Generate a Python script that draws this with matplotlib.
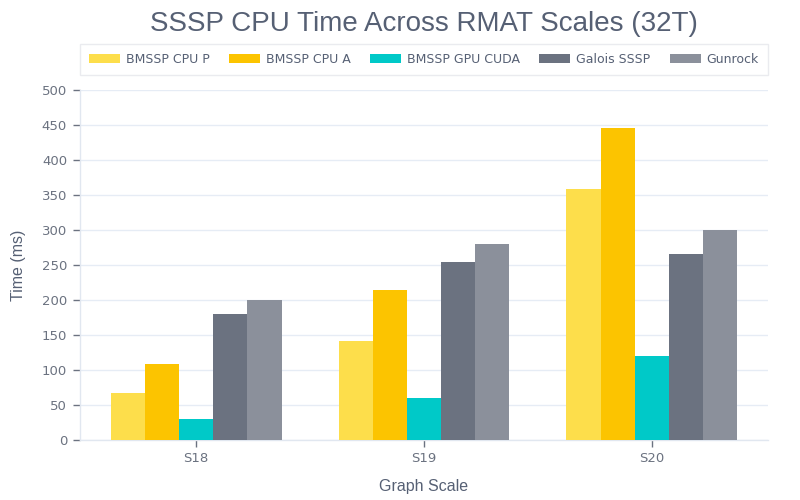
import matplotlib
matplotlib.use("Agg")
import matplotlib.pyplot as plt
import numpy as np

categories = ["S18", "S19", "S20"]
series_names = ["BMSSP CPU P", "BMSSP CPU A", "BMSSP GPU CUDA", "Galois SSSP", "Gunrock"]
bmssp_cpu_p = [67, 141, 358]
bmssp_cpu_a = [109, 214, 446]
bmssp_gpu_cuda = [30, 60, 120]
galois_sssp = [180, 254, 266]
gunrock = [200, 280, 300]
y_ticks = [0, 50, 100, 150, 200, 250, 300, 350, 400, 450, 500]

series_values = [bmssp_cpu_p, bmssp_cpu_a, bmssp_gpu_cuda, galois_sssp, gunrock]
colors = ["#FDDE4B", "#FCC400", "#00C9C8", "#6B7280", "#8B909B"]

TITLE_C = "#566074"
TICK_C = "#6B7280"
GRID_C = "#E6ECF5"

fig = plt.figure(figsize=(8, 5), dpi=100)
ax = fig.add_axes([80/800, 60/500, 688/800, 350/500])

x = np.arange(len(categories))
width = 0.15
for i, (name, vals, c) in enumerate(zip(series_names, series_values, colors)):
    ax.bar(x + (i - 2) * width, vals, width, color=c, label=name, zorder=3, linewidth=0)

ax.set_xlim(-0.51, 2.51)
ax.set_ylim(0, 500)
ax.set_yticks(y_ticks)
ax.set_yticklabels([str(v) for v in y_ticks])
ax.set_xticks(x)
ax.set_xticklabels(categories)
ax.grid(axis="y", color=GRID_C, linewidth=1.0, zorder=0)
ax.set_axisbelow(True)
for s in ["top", "right"]:
    ax.spines[s].set_visible(False)
for s in ["left", "bottom"]:
    ax.spines[s].set_color("#E1E7F0")
    ax.spines[s].set_linewidth(1.0)

ax.tick_params(axis="y", length=5, width=1, color=TICK_C, pad=4.3, labelcolor=TICK_C)
ax.tick_params(axis="x", length=5, width=1, color=TICK_C, pad=3.6, labelcolor=TICK_C)
for lab in ax.get_xticklabels() + ax.get_yticklabels():
    lab.set_fontfamily("DejaVu Sans")
    lab.set_fontsize(9.5)

ax.set_xlabel("Graph Scale", fontsize=11.5, color=TITLE_C,
              family=["Liberation Sans", "DejaVu Sans"])
ax.set_ylabel("Time (ms)", fontsize=11.5, color=TITLE_C,
              family=["Liberation Sans", "DejaVu Sans"])
ax.xaxis.label.set_va("center")
ax.xaxis.set_label_coords(0.5, -(487 - 440) / 350)
ax.yaxis.label.set_va("center")
ax.yaxis.set_label_coords(-(80 - 18) / 688, 0.5)

fig.text(424/800, 1 - 24/500, "SSSP CPU Time Across RMAT Scales (32T)",
         ha="center", va="center", fontsize=20, color=TITLE_C,
         family=["Liberation Sans", "DejaVu Sans"])

leg = fig.legend(loc="upper left", bbox_to_anchor=(80/800, 1 - 44/500), ncol=5,
                 frameon=True, fancybox=False, edgecolor="#E5E7EB",
                 prop=dict(family="DejaVu Sans", size=9),
                 handlelength=2.48, handleheight=0.72, handletextpad=0.48,
                 columnspacing=1.54, borderpad=0.72, borderaxespad=0,
                 labelcolor=TITLE_C)
leg.get_frame().set_linewidth(1.0)

fig.savefig("out.png", dpi=100, facecolor="white")
